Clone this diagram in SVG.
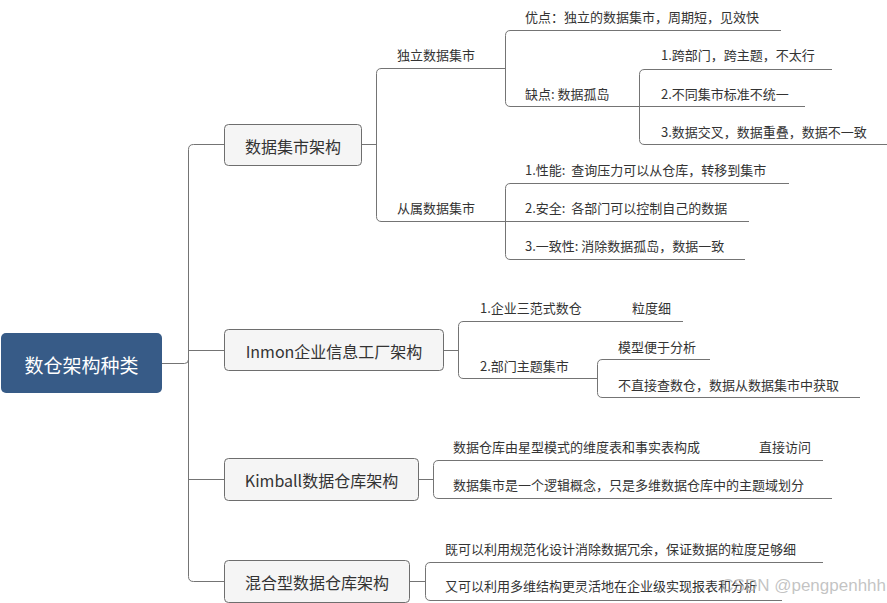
<svg xmlns="http://www.w3.org/2000/svg" width="887" height="603" viewBox="0 0 887 603">
<style>
.ln{fill:none;stroke:#747474;stroke-width:1}
.ul{stroke:#747474;stroke-width:1}
.box{fill:#f5f5f5;stroke:#6e6e6e;stroke-width:1}
.nt{font-family:"Noto Sans CJK SC","Microsoft YaHei",sans-serif;font-size:16px;fill:#333;text-anchor:middle;dominant-baseline:central}
.lt{font-family:"Noto Sans CJK SC","Microsoft YaHei",sans-serif;font-size:13px;fill:#333;dominant-baseline:central;white-space:pre}
</style>
<rect width="887" height="603" fill="#fff"/>
<g id="connectors">
<path class="ln" d="M162 363.5H184.5Q188.5 363.5 188.5 359.5"/>
<path class="ln" d="M224.5 144.5H193.5Q188.5 144.5 188.5 149.5V576.5Q188.5 581.5 193.5 581.5H224.5"/>
<path class="ln" d="M188.5 350.5H224.5M188.5 479.5H224.5"/>
<path class="ln" d="M361.5 144.5H376.5"/>
<path class="ln" d="M381.5 68.5Q376.5 68.5 376.5 73.5V216.5Q376.5 221.5 381.5 221.5"/>
<path class="ln" d="M510.5 30.5Q505.5 30.5 505.5 35.5V101.5Q505.5 106.5 510.5 106.5"/>
<path class="ln" d="M644.5 69.5Q639.5 69.5 639.5 74.5V139.5Q639.5 144.5 644.5 144.5"/>
<path class="ln" d="M510.5 183.5Q505.5 183.5 505.5 188.5V254.5Q505.5 259.5 510.5 259.5"/>
<path class="ln" d="M443.5 350.5H458.5"/>
<path class="ln" d="M463.5 321.5Q458.5 321.5 458.5 326.5V373.5Q458.5 378.5 463.5 378.5"/>
<path class="ln" d="M602.5 359.5Q597.5 359.5 597.5 364.5V392.5Q597.5 397.5 602.5 397.5"/>
<path class="ln" d="M418.5 479.5H433.5"/>
<path class="ln" d="M438.5 460.5Q433.5 460.5 433.5 465.5V493.5Q433.5 498.5 438.5 498.5"/>
<path class="ln" d="M409.5 581.5H425.5"/>
<path class="ln" d="M430.5 562.5Q425.5 562.5 425.5 567.5V595.5Q425.5 600.5 430.5 600.5"/>
</g>
<g id="root">
<rect x="1" y="333" width="161" height="60" rx="5" fill="#375b87"/>
<text x="81.5" y="364" font-family="Noto Sans CJK SC,Microsoft YaHei,sans-serif" font-size="19" fill="#fff" text-anchor="middle" dominant-baseline="central">数仓架构种类</text>
</g>
<g id="n-datamart">
<rect class="box" x="224.5" y="124.5" width="137" height="41" rx="4"/>
<text class="nt" x="293" y="145.5">数据集市架构</text>
</g>
<g id="n-inmon">
<rect class="box" x="224.5" y="329.5" width="219" height="41" rx="4"/>
<text class="nt" x="334" y="350.5">Inmon企业信息工厂架构</text>
</g>
<g id="n-kimball">
<rect class="box" x="224.5" y="458.5" width="194" height="42" rx="4"/>
<text class="nt" x="321.5" y="480">Kimball数据仓库架构</text>
</g>
<g id="n-hybrid">
<rect class="box" x="224.5" y="560.5" width="185" height="42" rx="4"/>
<text class="nt" x="317" y="582">混合型数据仓库架构</text>
</g>
<g id="n-independent">
<line class="ul" x1="381" y1="68.5" x2="505.5" y2="68.5"/>
<text class="lt" x="397" y="54">独立数据集市</text>
</g>
<g id="n-dependent">
<line class="ul" x1="381" y1="221.5" x2="505.5" y2="221.5"/>
<text class="lt" x="397" y="207">从属数据集市</text>
</g>
<g id="n-pro">
<line class="ul" x1="510" y1="30.5" x2="781" y2="30.5"/>
<text class="lt" x="525" y="16">优点：独立的数据集市，周期短，见效快</text>
</g>
<g id="n-con">
<line class="ul" x1="510" y1="106.5" x2="639.5" y2="106.5"/>
<text class="lt" x="525" y="93">缺点: 数据孤岛</text>
</g>
<g id="n-con1">
<line class="ul" x1="644" y1="69.5" x2="832" y2="69.5"/>
<text class="lt" x="661" y="54">1.跨部门，跨主题，不太行</text>
</g>
<g id="n-con2">
<line class="ul" x1="639.5" y1="106.5" x2="805" y2="106.5"/>
<text class="lt" x="661" y="93">2.不同集市标准不统一</text>
</g>
<g id="n-con3">
<line class="ul" x1="644" y1="144.5" x2="887" y2="144.5"/>
<text class="lt" x="661" y="131">3.数据交叉，数据重叠，数据不一致</text>
</g>
<g id="n-dep1">
<line class="ul" x1="510" y1="183.5" x2="789" y2="183.5"/>
<text class="lt" x="525" y="169.5" xml:space="preserve">1.性能:  查询压力可以从仓库，转移到集市</text>
</g>
<g id="n-dep2">
<line class="ul" x1="505.5" y1="221.5" x2="749" y2="221.5"/>
<text class="lt" x="525" y="207.5" xml:space="preserve">2.安全:  各部门可以控制自己的数据</text>
</g>
<g id="n-dep3">
<line class="ul" x1="510" y1="259.5" x2="745" y2="259.5"/>
<text class="lt" x="525" y="245.5">3.一致性: 消除数据孤岛，数据一致</text>
</g>
<g id="n-inmon1">
<line class="ul" x1="463" y1="321.5" x2="596" y2="321.5"/>
<text class="lt" x="480" y="307">1.企业三范式数仓</text>
</g>
<g id="n-inmon1a">
<line class="ul" x1="596" y1="321.5" x2="683" y2="321.5"/>
<text class="lt" x="632" y="307">粒度细</text>
</g>
<g id="n-inmon2">
<line class="ul" x1="463" y1="378.5" x2="597.5" y2="378.5"/>
<text class="lt" x="480" y="365">2.部门主题集市</text>
</g>
<g id="n-inmon2a">
<line class="ul" x1="602" y1="359.5" x2="710" y2="359.5"/>
<text class="lt" x="618" y="346">模型便于分析</text>
</g>
<g id="n-inmon2b">
<line class="ul" x1="602" y1="397.5" x2="860" y2="397.5"/>
<text class="lt" x="618" y="384.5">不直接查数仓，数据从数据集市中获取</text>
</g>
<g id="n-kim1">
<line class="ul" x1="438" y1="460.5" x2="740" y2="460.5"/>
<text class="lt" x="453" y="446">数据仓库由星型模式的维度表和事实表构成</text>
</g>
<g id="n-kim1a">
<line class="ul" x1="740" y1="460.5" x2="823" y2="460.5"/>
<text class="lt" x="759" y="446">直接访问</text>
</g>
<g id="n-kim2">
<line class="ul" x1="438" y1="498.5" x2="832" y2="498.5"/>
<text class="lt" x="453" y="484.5">数据集市是一个逻辑概念，只是多维数据仓库中的主题域划分</text>
</g>
<g id="n-hyb1">
<line class="ul" x1="430" y1="562.5" x2="823" y2="562.5"/>
<text class="lt" x="445" y="548">既可以利用规范化设计消除数据冗余，保证数据的粒度足够细</text>
</g>
<g id="n-hyb2">
<line class="ul" x1="430" y1="600.5" x2="782" y2="600.5"/>
<text class="lt" x="445" y="585">又可以利用多维结构更灵活地在企业级实现报表和分析</text>
</g>
<text x="886" y="585" font-family="Liberation Sans,Arial,sans-serif" font-size="17" fill="#b0b0b0" fill-opacity="0.75" text-anchor="end" dominant-baseline="central">CSDN @pengpenhhh</text>
</svg>
